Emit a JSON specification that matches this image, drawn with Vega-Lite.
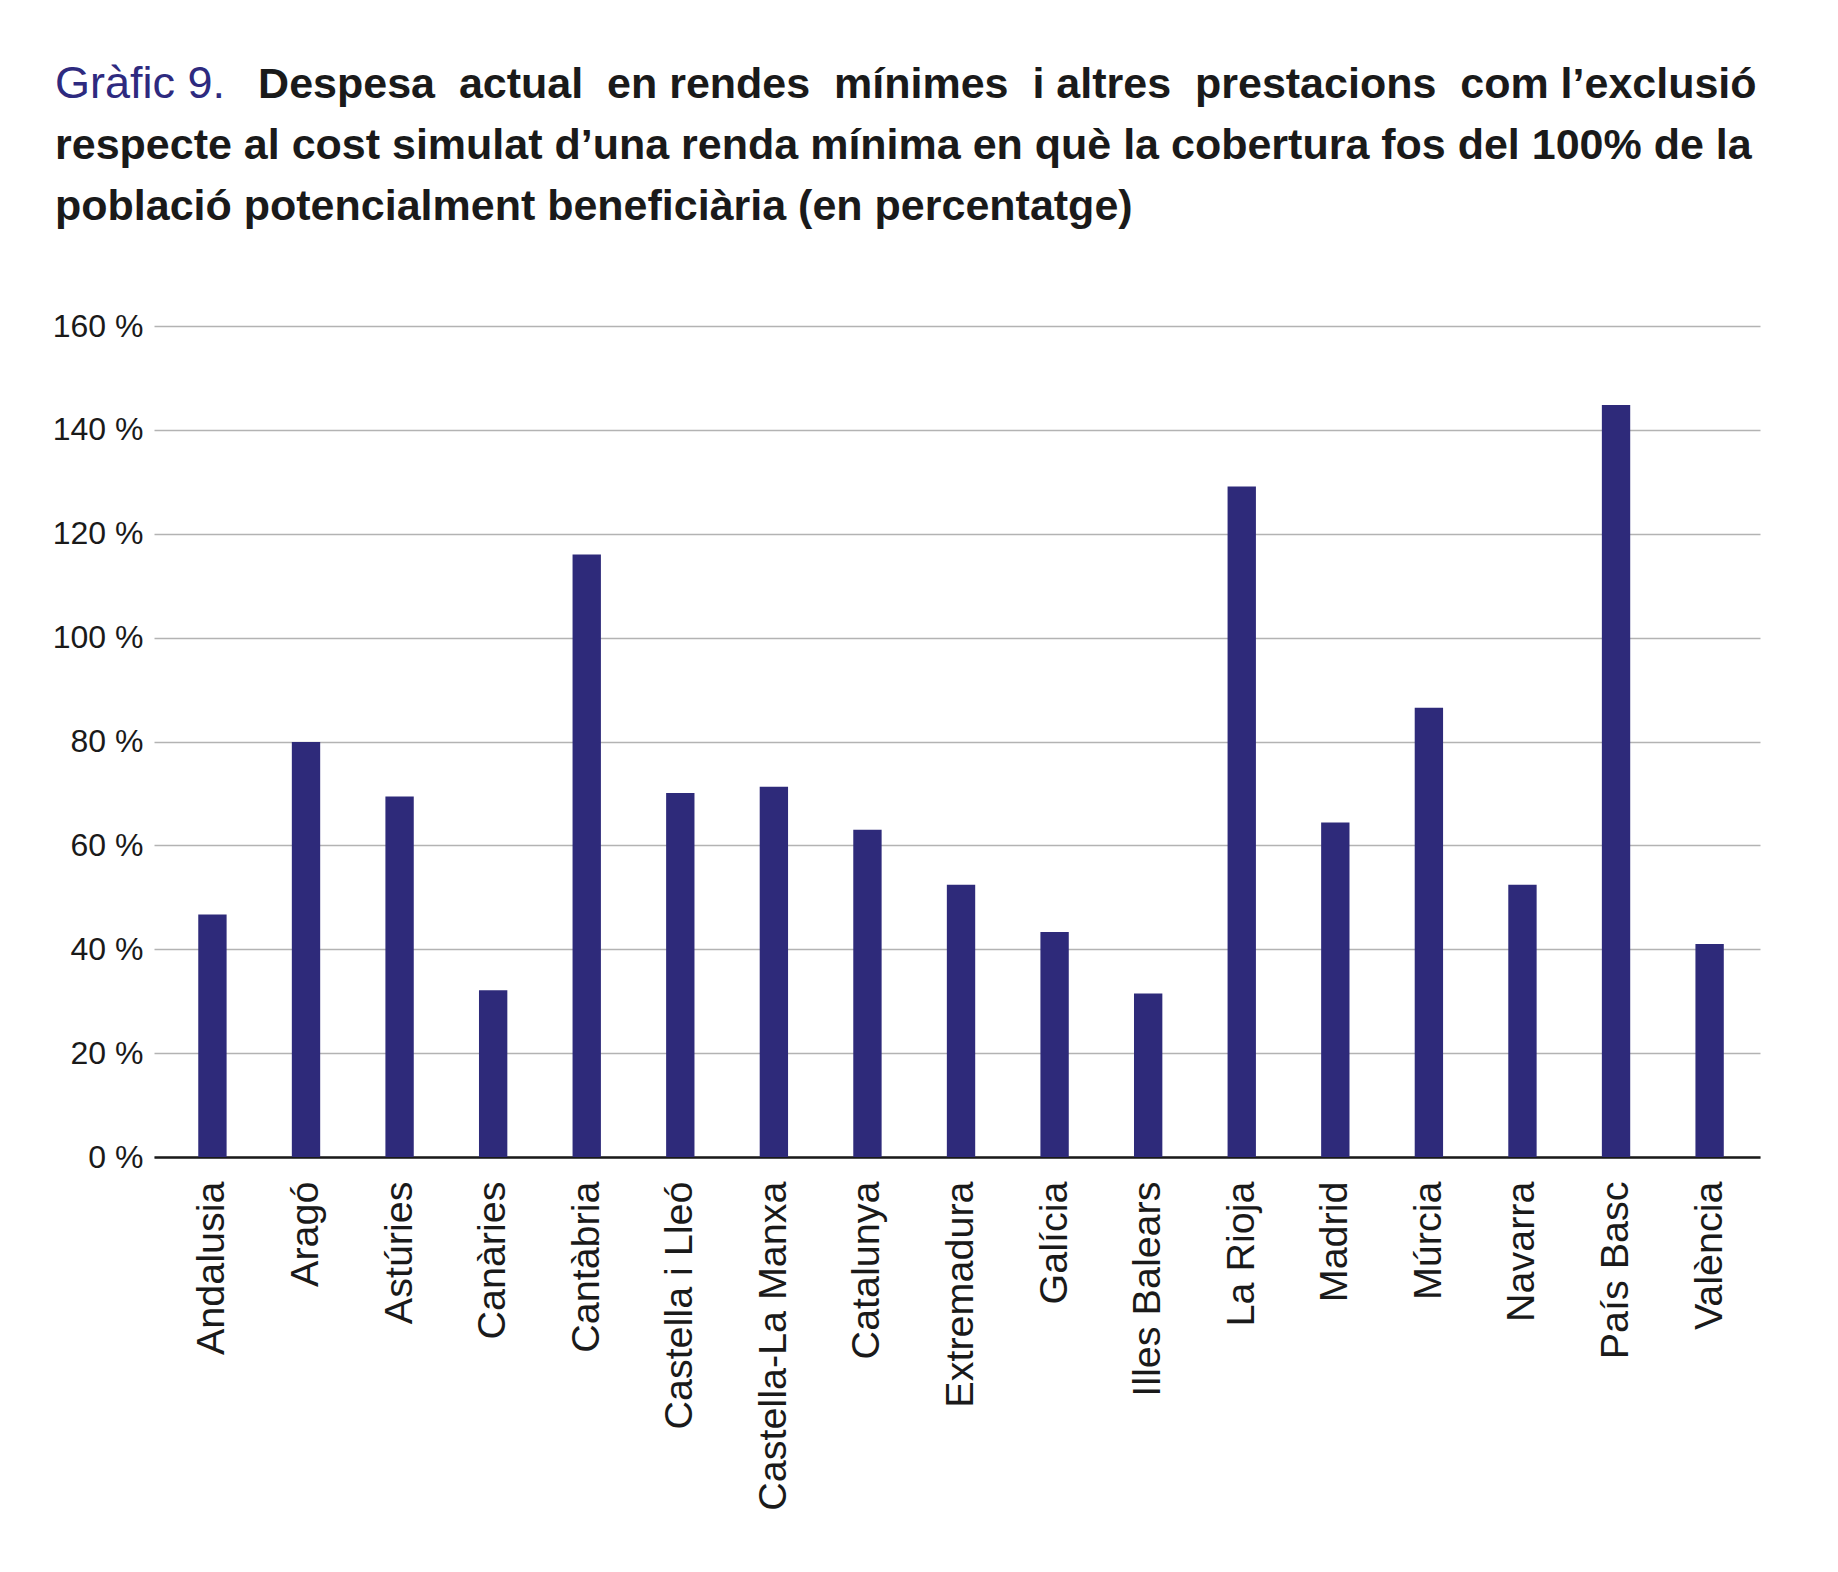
{
  "$schema": "https://vega.github.io/schema/vega-lite/v6.json",
  "autosize": {"type": "none"},
  "width": 1606,
  "height": 831,
  "padding": {"left": 154, "top": 326, "right": 78, "bottom": 415},
  "background": "white",
  "title": {
    "text": "Gràfic 9.",
    "subtitle": [
      "\u200b\u00a0\u00a0\u00a0\u00a0\u00a0\u00a0\u00a0\u00a0\u00a0\u00a0\u00a0\u00a0\u00a0\u00a0\u00a0\u00a0\u00a0Despesa \u00a0actual \u00a0en rendes \u00a0mínimes \u00a0i altres \u00a0prestacions \u00a0com l’exclusió",
      "respecte al cost simulat d’una renda mínima en què la cobertura fos del 100% de la",
      "població potencialment beneficiària (en percentatge)"
    ],
    "anchor": "start",
    "frame": "group",
    "dx": -99,
    "offset": 81,
    "font": "Liberation Sans",
    "fontSize": 45,
    "fontWeight": "normal",
    "color": "#2e2a7f",
    "subtitleFont": "Liberation Sans",
    "subtitleFontSize": 43,
    "subtitleFontWeight": "bold",
    "subtitleColor": "#1a1a1a",
    "subtitleLineHeight": 61,
    "subtitlePadding": -43
  },
  "data": {
    "values": [
      {"comunitat": "Andalusia", "percentatge": 46.7},
      {"comunitat": "Aragó", "percentatge": 79.9},
      {"comunitat": "Astúries", "percentatge": 69.4},
      {"comunitat": "Canàries", "percentatge": 32.1},
      {"comunitat": "Cantàbria", "percentatge": 116.0},
      {"comunitat": "Castella i Lleó", "percentatge": 70.1},
      {"comunitat": "Castella-La Manxa", "percentatge": 71.3},
      {"comunitat": "Catalunya", "percentatge": 63.0},
      {"comunitat": "Extremadura", "percentatge": 52.4},
      {"comunitat": "Galícia", "percentatge": 43.3},
      {"comunitat": "Illes Balears", "percentatge": 31.5},
      {"comunitat": "La Rioja", "percentatge": 129.1},
      {"comunitat": "Madrid", "percentatge": 64.4},
      {"comunitat": "Múrcia", "percentatge": 86.5},
      {"comunitat": "Navarra", "percentatge": 52.4},
      {"comunitat": "País Basc", "percentatge": 144.8},
      {"comunitat": "València", "percentatge": 41.0}
    ]
  },
  "mark": {"type": "bar", "color": "#2e2a7a"},
  "encoding": {
    "x": {
      "field": "comunitat",
      "type": "nominal",
      "sort": null,
      "scale": {"paddingInner": 0.697, "paddingOuter": 0.43, "align": 0.55},
      "axis": {
        "title": null,
        "labelAngle": -90,
        "labelAlign": "right",
        "labelBaseline": "middle",
        "labelFont": "Liberation Sans",
        "labelFontSize": 39.5,
        "labelColor": "#1a1a1a",
        "labelPadding": 24,
        "labelLimit": 0,
        "ticks": false,
        "tickSize": 0,
        "domainColor": "#1a1a1a",
        "domainWidth": 2.5,
        "grid": false
      }
    },
    "y": {
      "field": "percentatge",
      "type": "quantitative",
      "scale": {"domain": [0, 160]},
      "axis": {
        "title": null,
        "values": [0, 20, 40, 60, 80, 100, 120, 140, 160],
        "labelExpr": "datum.value + ' %'",
        "labelFont": "Liberation Sans",
        "labelFontSize": 32,
        "labelColor": "#1a1a1a",
        "labelPadding": 11,
        "ticks": false,
        "tickSize": 0,
        "domain": false,
        "grid": true,
        "gridColor": "#b3b3b3",
        "gridWidth": 1.5
      }
    }
  },
  "config": {"view": {"stroke": null}}
}
